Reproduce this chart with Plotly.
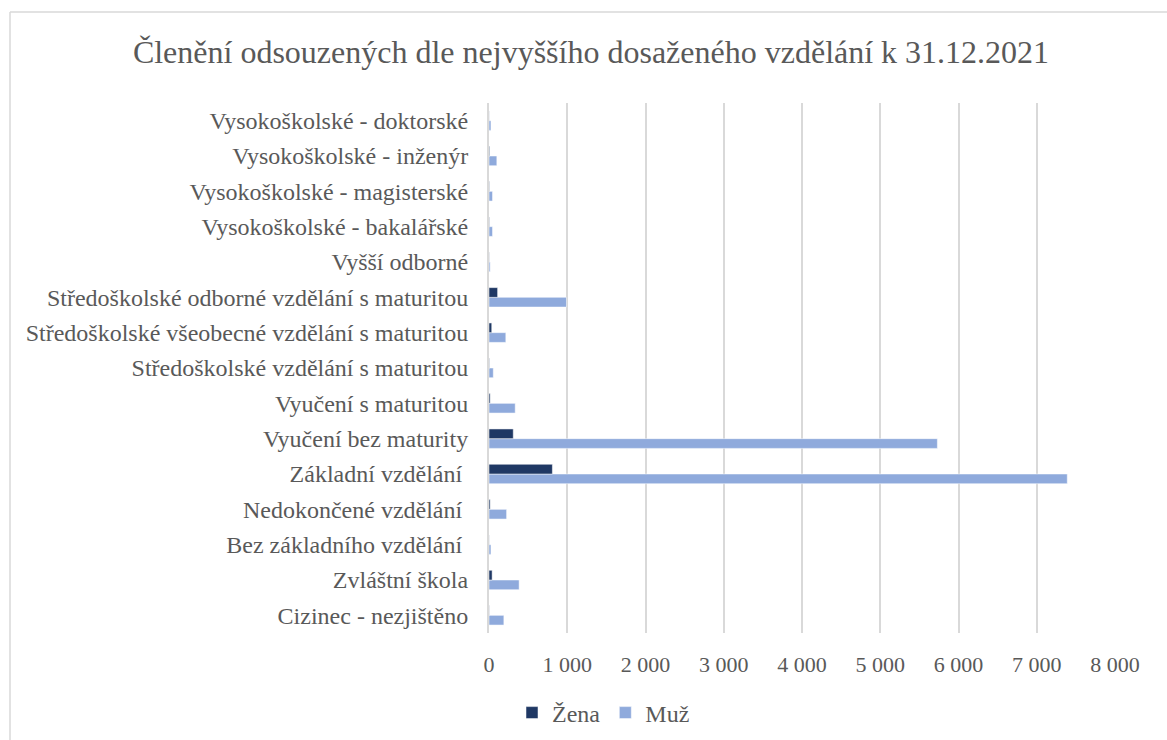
import plotly.graph_objects as go

categories = [
    "Cizinec - nezjištěno",
    "Zvláštní škola",
    "Bez základního vzdělání ",
    "Nedokončené vzdělání ",
    "Základní vzdělání ",
    "Vyučení bez maturity",
    "Vyučení s maturitou",
    "Středoškolské vzdělání s maturitou",
    "Středoškolské všeobecné vzdělání s maturitou",
    "Středoškolské odborné vzdělání s maturitou",
    "Vyšší odborné",
    "Vysokoškolské - bakalářské",
    "Vysokoškolské - magisterské",
    "Vysokoškolské - inženýr",
    "Vysokoškolské - doktorské",
]
zena = [3, 40, 2, 15, 810, 310, 15, 5, 35, 110, 3, 5, 5, 8, 2]
muz = [190, 385, 25, 225, 7390, 5730, 335, 55, 215, 990, 15, 45, 45, 100, 25]
tick_vals = [0, 1000, 2000, 3000, 4000, 5000, 6000, 7000, 8000]

W, H = 1167, 740
ml, mr, mt, mb = 489, 52, 103, 107
pw, ph = W - ml - mr, H - mt - mb

def px_x(x):
    return (x - ml) / pw

def px_y(y):
    return 1 - (y - mt) / ph

fig = go.Figure()
fig.add_trace(go.Bar(
    y=categories, x=muz, name="Muž", orientation="h",
    marker=dict(color="#8faadc", line=dict(color="white", width=0.5)),
    legendrank=2,
))
fig.add_trace(go.Bar(
    y=categories, x=zena, name="Žena", orientation="h",
    marker=dict(color="#1f3864", line=dict(color="white", width=0.5)),
    legendrank=1,
))

fig.update_layout(
    width=W, height=H,
    margin=dict(l=ml, r=mr, t=mt, b=mb, autoexpand=False),
    paper_bgcolor="white", plot_bgcolor="white",
    barmode="group", bargap=0.45, bargroupgap=0.0,
    separators=", ",
    font=dict(family="Liberation Serif, Times New Roman, serif", color="#595959"),
    title=dict(
        text="Členění odsouzených dle nejvyššího dosaženého vzdělání k 31.12.2021",
        x=px_x(591), xref="paper", xanchor="center",
        y=1 - 52 / H, yanchor="middle",
        font=dict(size=32, color="#595959"),
    ),
    xaxis=dict(
        range=[0, 8000], tickvals=tick_vals, tickformat=",d",
        showgrid=True, gridcolor="#d9d9d9", gridwidth=2,
        zeroline=False, showline=False,
        tickfont=dict(size=22, color="#595959"),
        ticks="", ticklen=0, ticklabelstandoff=16,
    ),
    yaxis=dict(
        showgrid=False, zeroline=False,
        showline=True, linecolor="#d9d9d9", linewidth=2,
        tickfont=dict(size=24, color="#595959"),
        ticks="", ticklen=0, automargin=False, ticklabelstandoff=14,
    ),
    legend=dict(
        orientation="h", x=px_x(512), xanchor="left",
        y=px_y(713), yanchor="middle",
        font=dict(size=24, color="#595959"),
        itemwidth=30, tracegroupgap=0,
    ),
    shapes=[
        dict(type="line", xref="paper", yref="paper",
             x0=px_x(10), x1=px_x(1200), y0=px_y(12), y1=px_y(12),
             line=dict(color="#d9d9d9", width=1.5)),
        dict(type="line", xref="paper", yref="paper",
             x0=px_x(10), x1=px_x(10), y0=px_y(12), y1=px_y(760),
             line=dict(color="#d9d9d9", width=1.5)),
    ],
)

fig.write_html("out.html", config={"displayModeBar": False},
               post_script="document.body.style.margin='0';")
